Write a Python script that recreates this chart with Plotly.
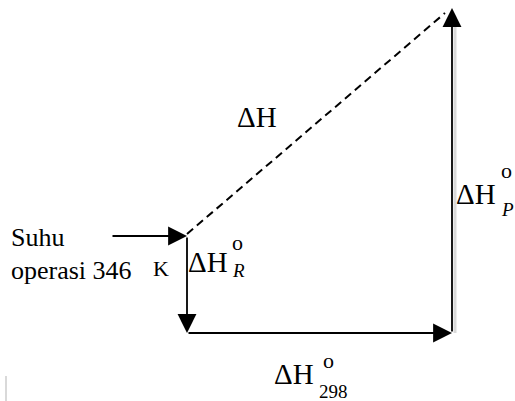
import plotly.graph_objects as go

# Key points of the enthalpy cycle (pixel-like diagram coordinates)
start_x = [111]          # tail of the "Suhu operasi" arrow
pt_x = [187, 187, 452, 452]   # A (346 K), B (298 K reactants), C (298 K products), D (346 K products)
pt_y = [236, 333, 333, 8]
dash_end = [445, 13]

FONT = "Liberation Serif"
fig = go.Figure()

# invisible trace to set up the scales
fig.add_trace(go.Scatter(x=pt_x, y=pt_y, mode="markers", marker=dict(opacity=0), hoverinfo="skip", showlegend=False))

ann = []
def arrow(x0, y0, x1, y1, width=1.8):
    ann.append(dict(x=x1, y=y1, ax=x0, ay=y0, xref="x", yref="y", axref="x", ayref="y",
                    text="", showarrow=True, arrowhead=2, arrowsize=2.1, arrowwidth=width,
                    arrowcolor="black"))

A = (pt_x[0], pt_y[0]); B = (pt_x[1], pt_y[1]); C = (pt_x[2], pt_y[2]); D = (pt_x[3], pt_y[3])
arrow(start_x[0], A[1], A[0], A[1])
arrow(A[0], A[1], B[0], B[1])
arrow(B[0], B[1], C[0], C[1])
arrow(C[0], C[1], D[0], D[1])

shapes = [
    dict(type="line", xref="x", yref="y", x0=C[0] + 3, y0=C[1], x1=D[0] + 3, y1=D[1] + 12,
         line=dict(color="#d9d9d9", width=3)),
    dict(type="line", xref="x", yref="y", x0=A[0], y0=A[1] - 2, x1=dash_end[0], y1=dash_end[1],
         line=dict(color="black", width=2, dash="8px,5px")),
    dict(type="line", xref="x", yref="y", x0=6, y0=376, x1=6, y1=401,
         line=dict(color="#d9d9d9", width=2)),
]

def txt(x, y, s, size, italic=False):
    ann.append(dict(x=x, y=y, xref="x", yref="y", text=s, showarrow=False, xanchor="left",
                    yanchor="middle", font=dict(family=FONT, size=size, color="black",
                                               style="italic" if italic else "normal")))

txt(235, 117, "ΔH", 29)
txt(9, 237, "Suhu", 26)
txt(9, 270, "operasi 346", 26)
txt(151, 268, "K", 22)
txt(186, 262, "ΔH", 29)
txt(230, 242, "o", 22)
txt(230, 270, "R", 19, True)
txt(454, 194, "ΔH", 29)
txt(499, 170, "o", 22)
txt(499, 209, "P", 19, True)
txt(272, 374, "ΔH", 29)
txt(321, 360, "o", 22)
txt(317, 391, "298", 19)

fig.update_layout(
    width=515, height=401, margin=dict(l=0, r=0, t=0, b=0),
    paper_bgcolor="white", plot_bgcolor="white",
    xaxis=dict(range=[0, 515], visible=False, fixedrange=True),
    yaxis=dict(range=[401, 0], visible=False, fixedrange=True),
    shapes=shapes, annotations=ann, showlegend=False,
)
fig.write_html("out.html", config={"displayModeBar": False},
               post_script="document.body.style.margin='0';document.body.style.overflow='hidden';")
